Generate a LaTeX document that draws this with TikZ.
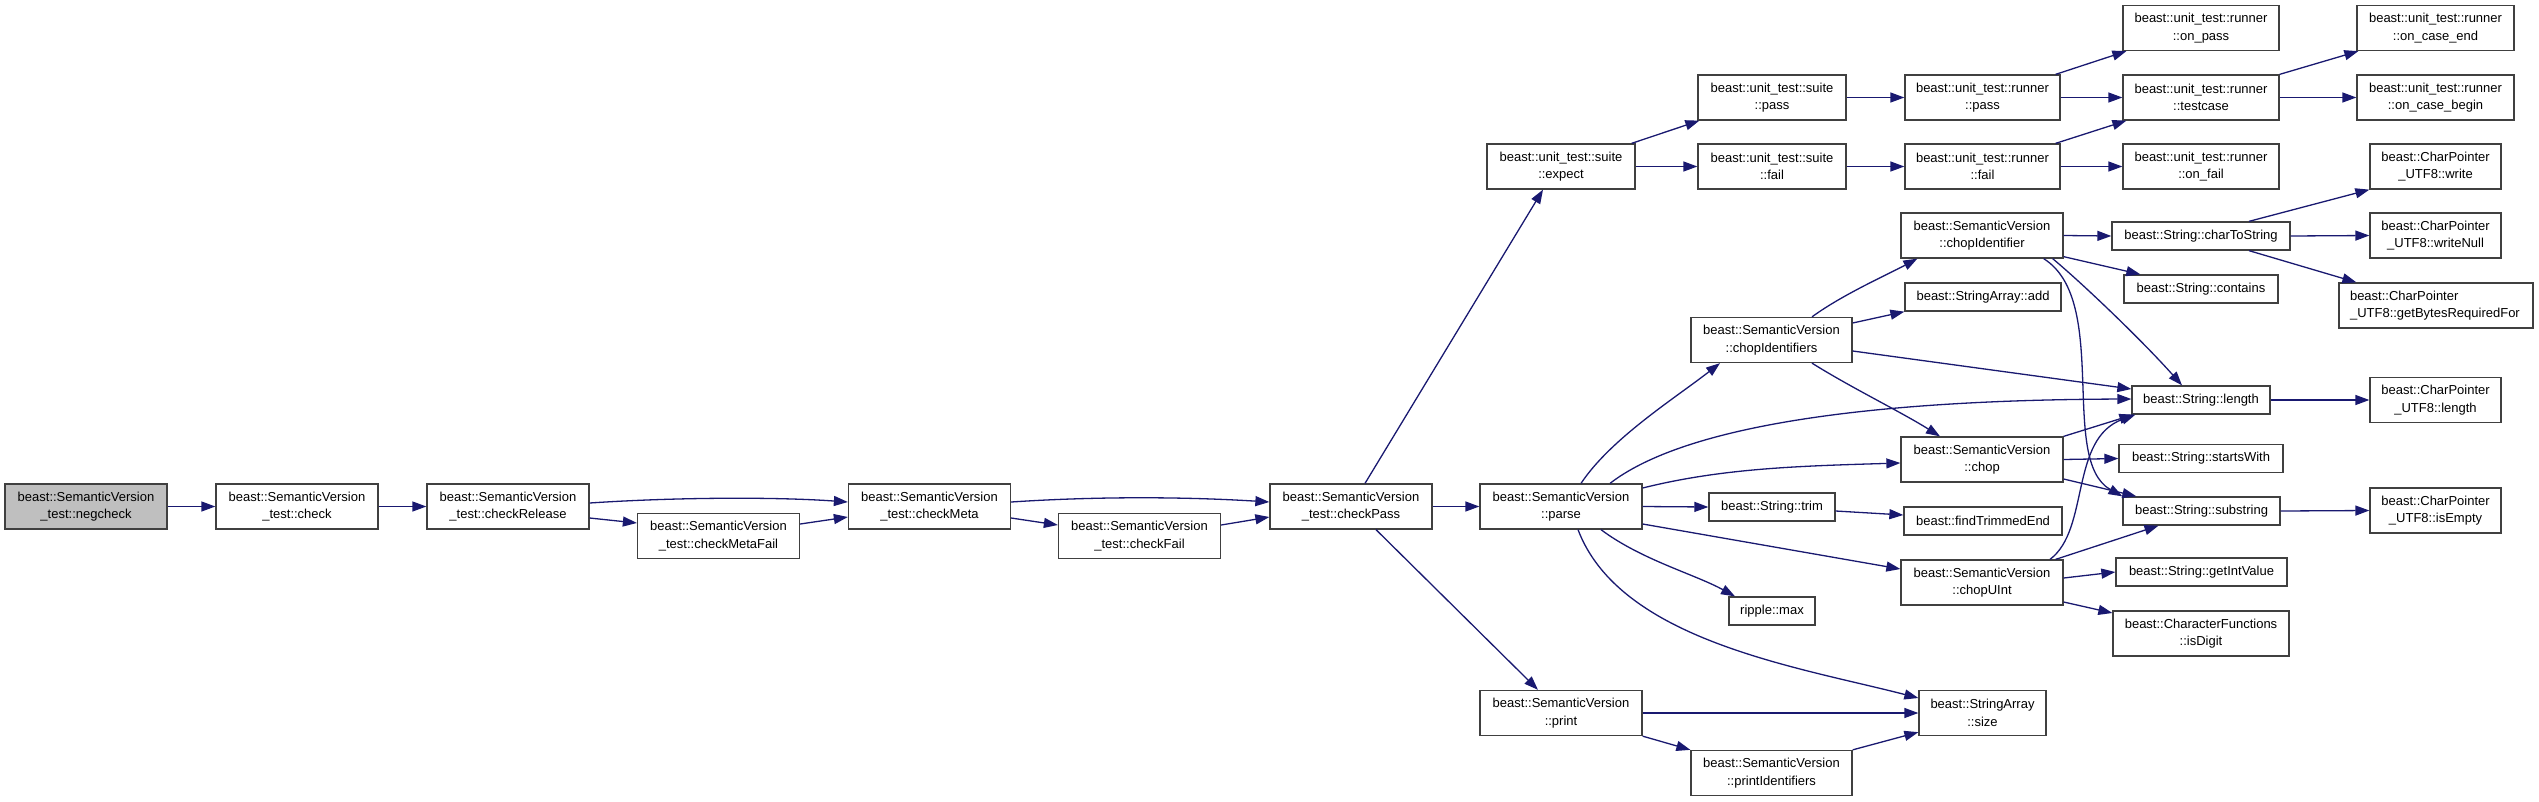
\documentclass[tikz,border=0pt]{standalone}
\usepackage{fontspec}
\setmainfont{Liberation Sans}
\usetikzlibrary{arrows.meta}
\definecolor{navy}{HTML}{191970}
\newcommand{\fs}{\fontsize{13}{17.6}\selectfont}
\tikzset{
  box/.style={draw=black!75, line width=1.3pt, fill=white, inner sep=0pt, align=center, font=\fs},
  btwo/.style={box, minimum height=45pt},
  bone/.style={box, minimum height=28pt},
  edge/.style={draw=navy, line width=1.3pt, -{Triangle[length=14pt,width=10pt]}},
}
\begin{document}
\begin{tikzpicture}[x=1pt,y=-1pt]
\useasboundingbox (0,0) rectangle (2539,801);
% nodes
\node[btwo, minimum width=162pt, fill=black!25] (neg) at (86,506.5) {beast::SemanticVersion\\\_test::negcheck};
\node[btwo, minimum width=162pt] (check) at (297,506.5) {beast::SemanticVersion\\\_test::check};
\node[btwo, minimum width=162pt] (rel) at (508,506.5) {beast::SemanticVersion\\\_test::checkRelease};
\node[btwo, minimum width=162pt] (mfail) at (718.5,536) {beast::SemanticVersion\\\_test::checkMetaFail};
\node[btwo, minimum width=162pt] (meta) at (929.5,506.5) {beast::SemanticVersion\\\_test::checkMeta};
\node[btwo, minimum width=162pt] (cfail) at (1139.5,536) {beast::SemanticVersion\\\_test::checkFail};
\node[btwo, minimum width=162pt] (pass) at (1351,506.5) {beast::SemanticVersion\\\_test::checkPass};
\node[btwo, minimum width=148pt] (expect) at (1561,166.5) {beast::unit\_test::suite\\::expect};
\node[btwo, minimum width=148pt] (spass) at (1772,97.5) {beast::unit\_test::suite\\::pass};
\node[btwo, minimum width=148pt] (sfail) at (1772,166.5) {beast::unit\_test::suite\\::fail};
\node[btwo, minimum width=155pt] (rpass) at (1982.5,97.5) {beast::unit\_test::runner\\::pass};
\node[btwo, minimum width=155pt] (rfail) at (1982.5,166.5) {beast::unit\_test::runner\\::fail};
\node[btwo, minimum width=156pt] (onpass) at (2201,28) {beast::unit\_test::runner\\::on\_pass};
\node[btwo, minimum width=156pt] (testcase) at (2201,97.5) {beast::unit\_test::runner\\::testcase};
\node[btwo, minimum width=156pt] (onfail) at (2201,166.5) {beast::unit\_test::runner\\::on\_fail};
\node[btwo, minimum width=157pt] (onend) at (2435.5,28) {beast::unit\_test::runner\\::on\_case\_end};
\node[btwo, minimum width=157pt] (onbegin) at (2435.5,97.5) {beast::unit\_test::runner\\::on\_case\_begin};
\node[btwo, minimum width=131pt] (write) at (2435.5,166.5) {beast::CharPointer\\\_UTF8::write};
\node[btwo, minimum width=131pt] (writenull) at (2435.5,235.5) {beast::CharPointer\\\_UTF8::writeNull};
\node[btwo, minimum width=194pt, align=left, text width=172pt] (getbytes) at (2436,305.5) {beast::CharPointer\\\_UTF8::getBytesRequiredFor};
\node[btwo, minimum width=162pt] (chopid) at (1982,235.5) {beast::SemanticVersion\\::chopIdentifier};
\node[bone, minimum width=178pt] (c2s) at (2201,236) {beast::String::charToString};
\node[bone, minimum width=154pt] (contains) at (2201,289) {beast::String::contains};
\node[bone, minimum width=156pt] (add) at (1983,297) {beast::StringArray::add};
\node[btwo, minimum width=161pt] (chopids) at (1771.5,340) {beast::SemanticVersion\\::chopIdentifiers};
\node[bone, minimum width=138pt] (length) at (2201,400) {beast::String::length};
\node[btwo, minimum width=131pt] (cplength) at (2435.5,400) {beast::CharPointer\\\_UTF8::length};
\node[btwo, minimum width=162pt] (chop) at (1982,459.5) {beast::SemanticVersion\\::chop};
\node[bone, minimum width=164pt] (starts) at (2201,458.5) {beast::String::startsWith};
\node[btwo, minimum width=162pt] (parse) at (1561,506.5) {beast::SemanticVersion\\::parse};
\node[bone, minimum width=126pt] (trim) at (1772,507) {beast::String::trim};
\node[bone, minimum width=158pt] (findtrim) at (1983,521) {beast::findTrimmedEnd};
\node[bone, minimum width=157pt] (substring) at (2201.5,511) {beast::String::substring};
\node[btwo, minimum width=131pt] (isempty) at (2435.5,510.5) {beast::CharPointer\\\_UTF8::isEmpty};
\node[btwo, minimum width=162pt] (chopuint) at (1982,582.5) {beast::SemanticVersion\\::chopUInt};
\node[bone, minimum width=171pt] (getint) at (2201.5,572) {beast::String::getIntValue};
\node[bone, minimum width=86pt] (max) at (1772,611) {ripple::max};
\node[btwo, minimum width=176pt] (isdigit) at (2201,633.5) {beast::CharacterFunctions\\::isDigit};
\node[btwo, minimum width=162pt] (print) at (1561,713) {beast::SemanticVersion\\::print};
\node[btwo, minimum width=127pt] (size) at (1982.5,713) {beast::StringArray\\::size};
\node[btwo, minimum width=161pt] (printids) at (1771.5,773) {beast::SemanticVersion\\::printIdentifiers};
% edges
\draw[edge] (neg.east) -- (check.west);
\draw[edge] (check.east) -- (rel.west);
\draw[edge] ([yshift=3.5pt]rel.east) .. controls +(90,-6) and +(-70,-5) .. ([yshift=4.5pt]meta.west);
\draw[edge] ([yshift=-11.5pt]rel.east) -- ([yshift=13pt]mfail.west);
\draw[edge] ([yshift=12pt]mfail.east) -- ([yshift=-10.5pt]meta.west);
\draw[edge] ([yshift=4.5pt]meta.east) .. controls +(90,-6) and +(-80,-5) .. ([yshift=4.5pt]pass.west);
\draw[edge] ([yshift=-11.5pt]meta.east) -- ([yshift=11pt]cfail.west);
\draw[edge] ([yshift=11pt]cfail.east) -- ([yshift=-10.5pt]pass.west);
\draw[edge] ([xshift=14pt]pass.north) -- ([xshift=-18pt]expect.south);
\draw[edge] (pass.east) -- (parse.west);
\draw[edge] ([xshift=25pt]pass.south) -- ([xshift=-23pt]print.north);
\draw[edge] ([xshift=-4pt]expect.north east) -- ([xshift=2pt]spass.south west);
\draw[edge] (expect.east) -- (sfail.west);
\draw[edge] (spass.east) -- (rpass.west);
\draw[edge] (sfail.east) -- (rfail.west);
\draw[edge] ([xshift=-5pt]rpass.north east) -- ([xshift=4pt]onpass.south west);
\draw[edge] (rpass.east) -- (testcase.west);
\draw[edge] ([xshift=-5pt]rfail.north east) -- ([xshift=4pt]testcase.south west);
\draw[edge] (rfail.east) -- (onfail.west);
\draw[edge] (testcase.north east) -- ([xshift=2pt]onend.south west);
\draw[edge] (testcase.east) -- (onbegin.west);
\draw[edge] ([xshift=20pt]parse.north) .. controls +(30,-45) and +(-45,35) .. ([xshift=-51.5pt]chopids.south);
\draw[edge] ([xshift=49pt]parse.north) .. controls +(70,-54) and +(-282,1) .. ([yshift=1pt]length.west);
\draw[edge] ([yshift=18.5pt]parse.east) .. controls +(80,-20) and +(-100,3) .. ([yshift=-3.5pt]chop.west);
\draw[edge] (parse.east) -- (trim.west);
\draw[edge] ([yshift=-17.5pt]parse.east) -- ([yshift=13.5pt]chopuint.west);
\draw[edge] ([xshift=40pt]parse.south) .. controls +(40,30) and +(-40,-22) .. ([xshift=-37pt]max.north);
\draw[edge] ([xshift=17pt]parse.south) .. controls +(42,111) and +(-120,-31) .. ([yshift=15pt]size.west);
\draw[edge] (print.east) -- (size.west);
\draw[edge] (print.south east) -- (printids.north west);
\draw[edge] (printids.north east) -- ([yshift=4pt]size.south west);
\draw[edge] ([yshift=-4pt]trim.east) -- ([yshift=6pt]findtrim.west);
\draw[edge] ([xshift=40.5pt]chopids.north) .. controls +(30,-22) and +(-30,16) .. ([xshift=17pt]chopid.south west);
\draw[edge] ([yshift=17pt]chopids.east) -- (add.south west);
\draw[edge] ([yshift=-11pt]chopids.east) -- ([yshift=11pt]length.west);
\draw[edge] ([xshift=40.5pt]chopids.south) .. controls +(40,25) and +(-40,-25) .. ([xshift=-42pt]chop.north);
\draw[edge] (chopid.east) -- (c2s.west);
\draw[edge] ([yshift=2pt]chopid.south east) -- ([xshift=17pt]contains.north west);
\draw[edge] ([xshift=-11pt]chopid.south east) .. controls +(30,25) and +(-40,-45) .. ([xshift=-19pt]length.north);
\draw[edge] ([xshift=-20pt]chopid.south east) .. controls +(67,42) and +(-64,-36) .. (substring.north west);
\draw[edge] ([xshift=48pt]c2s.north) -- (write.south west);
\draw[edge] (c2s.east) -- (writenull.west);
\draw[edge] ([xshift=48pt]c2s.south) -- ([xshift=18pt]getbytes.north west);
\draw[edge] (length.east) -- (cplength.west);
\draw[edge] (chop.north east) -- ([xshift=2pt]length.south west);
\draw[edge] (chop.east) -- (starts.west);
\draw[edge] ([yshift=-19.5pt]chop.east) -- ([xshift=14pt]substring.north west);
\draw[edge] (substring.east) -- (isempty.west);
\draw[edge] ([xshift=68pt]chopuint.north) .. controls +(40,-30) and +(-66,24) .. ([xshift=4pt]length.south west);
\draw[edge] ([xshift=-8pt]chopuint.north east) -- ([xshift=-43pt]substring.south);
\draw[edge] ([yshift=4.5pt]chopuint.east) -- (getint.west);
\draw[edge] ([yshift=-19.5pt]chopuint.east) -- ([yshift=20.5pt]isdigit.west);
\end{tikzpicture}
\end{document}
